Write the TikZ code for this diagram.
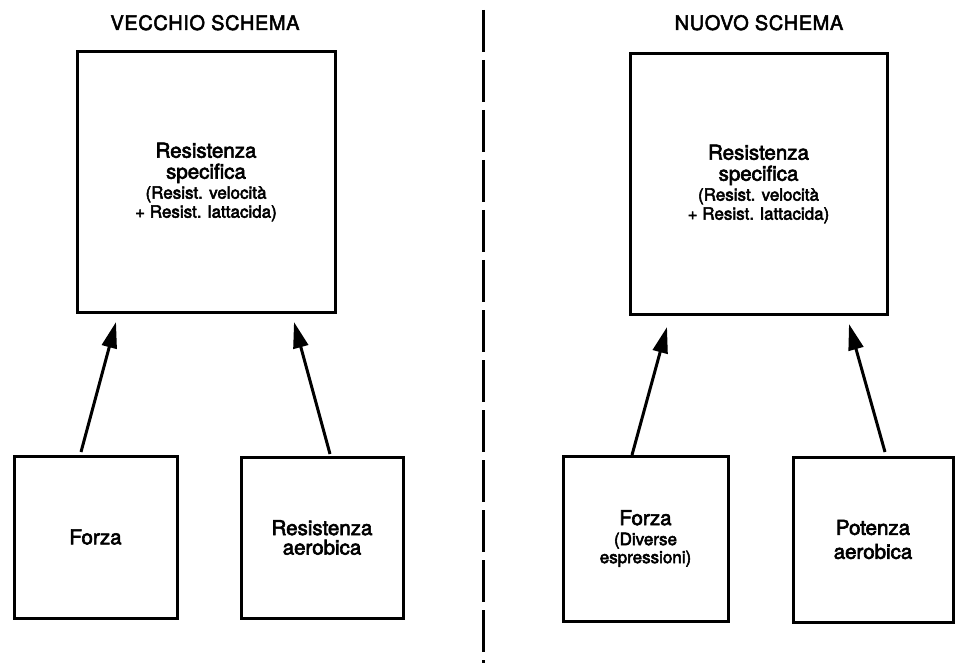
\documentclass[tikz,border=0pt]{standalone}
\usepackage{fontspec}
\setmainfont{TeX Gyre Heros}[FakeBold=3]
\newfontfamily\titlefont{TeX Gyre Heros}[FakeBold=2.5,LetterSpace=3.0]
\usetikzlibrary{arrows.meta}
\newcommand\mybig{\fontsize{20.5}{17.5}\selectfont\lineskiplimit=-100pt\relax}
\newcommand\mysmall{\fontsize{17}{18}\selectfont}
\newcommand\mytitle{\titlefont\fontsize{20}{20}\selectfont}
\begin{document}
\begin{tikzpicture}[x=1pt,y=-1pt,
  box/.style={draw,line width=3pt,inner sep=0pt,outer sep=0pt,align=center,font=\mybig},
  arr/.style={line width=3pt,-{Triangle[length=26pt,width=15pt]}},
  title/.style={anchor=base,font=\mytitle,inner sep=0pt},
  divider/.style={line width=3pt,dash pattern=on 42pt off 8pt}]
\useasboundingbox (0,0) rectangle (956,663);
% titles
\node[title] (tL) at (205,30) {VECCHIO SCHEMA};
\node[title] (tR) at (759,30) {NUOVO SCHEMA};
% divider
\coordinate (d1) at (483,10);
\coordinate (d2) at (483,663);
\draw[divider] (d1) -- (d2);
% big boxes
\node[box,minimum width=258pt,minimum height=260pt] (L) at (206,182)
  {Resistenza\\[3.5pt]specifica\\[2.5pt]{\mysmall(Resist. velocità}\\[1.5pt]{\mysmall + Resist. lattacida)}};
\node[box,minimum width=257pt,minimum height=260pt] (R) at (758.5,184)
  {Resistenza\\[3.5pt]specifica\\[2.5pt]{\mysmall(Resist. velocità}\\[1.5pt]{\mysmall + Resist. lattacida)}};
% small boxes
\node[box,minimum width=163pt,minimum height=162pt] (A) at (95.5,537) {Forza};
\node[box,minimum width=162pt,minimum height=161pt] (B) at (322,537.5) {Resistenza\\[2pt]aerobica};
\node[box,minimum width=165pt,minimum height=165pt] (C) at (645.5,538.5)
  {Forza\\[2.5pt]{\mysmall(Diverse}\\[0.5pt]{\mysmall espressioni)}};
\node[box,minimum width=160pt,minimum height=165pt] (D) at (873,539.5) {Potenza\\[6.5pt]aerobica};
% arrows
\draw[arr] ([xshift=-14.5pt,yshift=4pt]A.north) -- ([xshift=-90pt,yshift=-10pt]L.south);
\draw[arr] ([xshift=8pt,yshift=3pt]B.north) -- ([xshift=88pt,yshift=-10pt]L.south);
\draw[arr] ([xshift=-13.5pt,yshift=1pt]C.north) -- ([xshift=-91.5pt,yshift=-13pt]R.south);
\draw[arr] ([xshift=12pt,yshift=5pt]D.north) -- ([xshift=90.5pt,yshift=-10pt]R.south);
\end{tikzpicture}
\end{document}
